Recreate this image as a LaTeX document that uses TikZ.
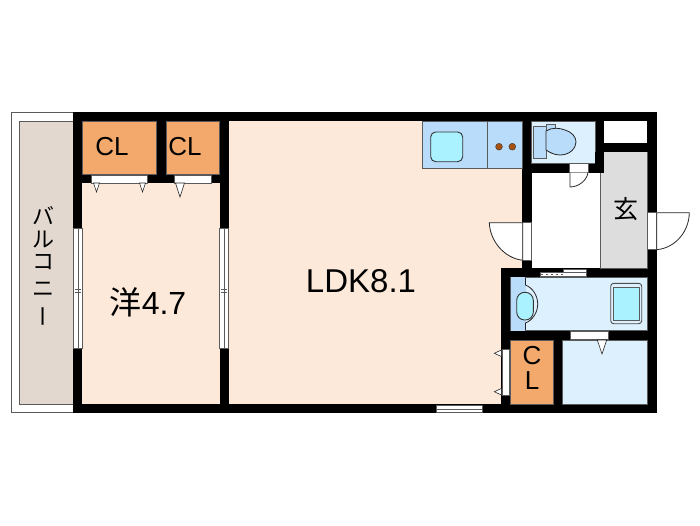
\documentclass[tikz,border=0pt]{standalone}
\usepackage{fontspec}
\setmainfont{Liberation Sans}
\newfontfamily\cjk{Noto Sans CJK JP}
\usepackage{xcolor}
\definecolor{ldkpeach}{RGB}{253, 233, 218}
\definecolor{balconytan}{RGB}{226, 216, 208}
\definecolor{closetorange}{RGB}{242, 169, 107}
\definecolor{kitchenblue}{RGB}{186, 220, 251}
\definecolor{bathblue}{RGB}{221, 240, 254}
\definecolor{sinkcyan}{RGB}{170, 242, 255}
\definecolor{entrygray}{RGB}{221, 221, 222}
\definecolor{hobbrown}{RGB}{168, 80, 16}
\definecolor{edgegray}{RGB}{90, 90, 90}
\tikzset{
  wall/.style={fill=black, draw=none},
  room/.style={draw=edgegray, line width=0.5pt},
  fixture/.style={draw=black!80, line width=0.9pt, rounded corners=3pt},
  gap/.style={fill=white, draw=edgegray, line width=0.5pt},
  doorleaf/.style={fill=white, draw=black!85, line width=0.8pt},
  hinge/.style={fill=white, draw=black!85, line width=0.6pt},
  balconytext/.style={font=\fontsize{22}{22}\cjk, inner sep=0pt, text height=17pt, text depth=0pt}
}
\begin{document}
\begin{tikzpicture}[x=1pt, y=-1pt]
  \useasboundingbox (0,0) rectangle (700,525);
  % Balcony
  \draw[room, fill=white] (11,112) rectangle (73.5,412.7);
  \draw[room, fill=balconytan] (19,121) rectangle (73.5,404);
  % Walls
  \fill[wall] (73.3,112) rectangle (656.7,412.7);
  % Rooms
  \fill[ldkpeach] (82.3,183) rectangle (219.5,404);
  \fill[ldkpeach] (228.7,121) rectangle (522,268);
  \fill[ldkpeach] (228.7,268) rectangle (501.3,404);
  \draw[room, fill=closetorange] (82.3,121) rectangle (156.5,174);
  \draw[room, fill=closetorange] (166,121) rectangle (219.5,174);
  \draw[room, fill=closetorange] (510.7,340) rectangle (553.5,404);
  \draw[room, fill=kitchenblue] (422.3,121) rectangle (487,168.7);
  \draw[room, fill=kitchenblue] (487,121) rectangle (522,168.7);
  \draw[room, fill=bathblue] (531.5,121) rectangle (595,163);
  \fill[white] (604,121) rectangle (647,143);
  \fill[white] (531.5,173) rectangle (600,268);
  \draw[room, fill=entrygray] (600,152) -- (647,152) -- (647,268) -- (600,268) -- cycle;
  \fill[wall] (595,152) rectangle (604,173);
  \fill[entrygray] (604,152) rectangle (647,173);
  \draw[edgegray, line width=0.8pt] (600,173) -- (600,268);
  \draw[room, fill=bathblue] (510.7,277.3) rectangle (647,330.7);
  \draw[room, fill=bathblue] (562.7,340) rectangle (647,404);
  % Kitchen
  \draw[fixture, rounded corners=5pt, fill=sinkcyan] (430.7,132) rectangle (462.7,161.7);
  \fill[hobbrown, draw=black!80, line width=0.4pt] (499,146.7) circle (3.4);
  \fill[hobbrown, draw=black!80, line width=0.4pt] (512.3,146.7) circle (3.4);
  % Toilet
  \draw[edgegray, line width=0.7pt, fill=kitchenblue] (533.5,126) rectangle (546,158.5);
  \draw[edgegray, line width=0.7pt, fill=kitchenblue] (546,124) rectangle (555,130);
  \draw[black!85, line width=0.8pt, fill=kitchenblue] (546,131) .. controls (552,127) and (560,128) .. (565,130) .. controls (572,132) and (576,137) .. (576,142) .. controls (576,148) and (570,155) .. (560,155) .. controls (554,155) and (549,152) .. (546,150) -- cycle;
  % Wash basin and bath
  \fill[kitchenblue] (510.7,277.3) rectangle (525.5,330.7);
  \draw[black!85, line width=0.8pt] (525.5,277.3) -- (525.5,285) .. controls (533,288) and (537.7,296) .. (537.7,304) .. controls (537.7,312) and (533,320) .. (525.5,323) -- (525.5,330.7);
  \draw[fixture, rounded corners=8pt, fill=sinkcyan] (516.7,292.3) rectangle (533.3,320);
  \draw[fixture, fill=bathblue, draw=black!70] (610.7,283.3) rectangle (641.7,323.7);
  \draw[edgegray, line width=0.7pt, fill=sinkcyan] (613.7,287) rectangle (639,320);
  % Door and window gaps
  \draw[gap] (91.7,175) rectangle (147.3,183);
  \draw[gap] (174,175) rectangle (211,183);
  \draw[gap] (73.3,228) rectangle (82.3,348);
  \draw[gap] (219.5,228) rectangle (228.7,348);
  \draw[edgegray, line width=0.4pt] (77.8,228) -- (77.8,348) (224,228) -- (224,348);
  \draw[edgegray, line width=0.4pt] (75,289) -- (81,289) (75,292) -- (81,292) (221,289) -- (227,289) (221,292) -- (227,292);
  \draw[gap] (436,405) rectangle (482.3,412.7);
  \draw[edgegray, line width=0.4pt] (436,408.8) -- (482.3,408.8);
  \draw[gap] (540,272.7) rectangle (586.3,276.5);
  \draw[gap] (563,269) rectangle (586.3,272.7);
  \draw[edgegray, line width=1pt, dash pattern=on 2pt off 3pt] (541,274.6) -- (563,274.6);
  \draw[gap] (570.7,331.3) rectangle (608.3,339.3);
  \draw[gap] (502.3,349.3) rectangle (509.3,395.3);
  % Closet door hinges
  \draw[hinge] (93.5,183) -- (99.5,183) -- (96.5,192) -- cycle;
  \draw[hinge] (139.5,183) -- (145.5,183) -- (142.5,192) -- cycle;
  \draw[hinge] (175.5,183) -- (184.5,183) -- (180,197) -- cycle;
  \draw[hinge] (597.3,340) -- (606.7,340) -- (602,354) -- cycle;
  \draw[hinge] (501.3,350) -- (501.3,356.5) -- (494.3,353.3) -- cycle;
  \draw[hinge] (501.3,388.5) -- (501.3,395) -- (494.3,391.7) -- cycle;
  % Swing doors
  \draw[gap] (569.3,163.5) rectangle (588,172.5);
  \draw[doorleaf] (570,172.5) -- (570,187) .. controls (579,187) and (587,180) .. (588,172.5);
  \draw[gap] (522.7,222.7) rectangle (531.5,260.3);
  \draw[doorleaf] (522.7,222.7) -- (489.3,222.7) .. controls (490,241) and (504,258) .. (522.7,260.3) -- cycle;
  \draw[gap] (647,212.7) rectangle (656.7,249.7);
  \draw[doorleaf] (656.7,212.7) -- (689.3,212.7) .. controls (689,232) and (675,248) .. (656.7,249.7) -- cycle;
  % Labels
  \node[font=\fontsize{26}{26}\selectfont] (closeta) at (112,147) {CL};
  \node[font=\fontsize{26}{26}\selectfont] (closetb) at (185,147) {CL};
  \node[font=\fontsize{26}{26}\selectfont, inner sep=0pt] (closetc) at (532,356) {C};
  \node[font=\fontsize{26}{26}\selectfont, inner sep=0pt] (closetd) at (532,381) {L};
  \node[font=\fontsize{33}{33}\selectfont] (ldk) at (361,281) {LDK8.1};
  \node[font=\fontsize{32}{32}\selectfont] (youshitsu) at (148,302) {{\cjk 洋}4.7};
  \node[font=\fontsize{25}{25}\cjk] (genkan) at (626,209) {玄};
  \node[balconytext] (balconya) at (43,216) {バ};
  \node[balconytext] (balconyb) at (43,239) {ル};
  \node[balconytext] (balconyc) at (43,261) {コ};
  \node[balconytext] (balconyd) at (43,288) {ニ};
  \node[balconytext, rotate=90] (balconye) at (43,316) {ー};
\end{tikzpicture}
\end{document}
